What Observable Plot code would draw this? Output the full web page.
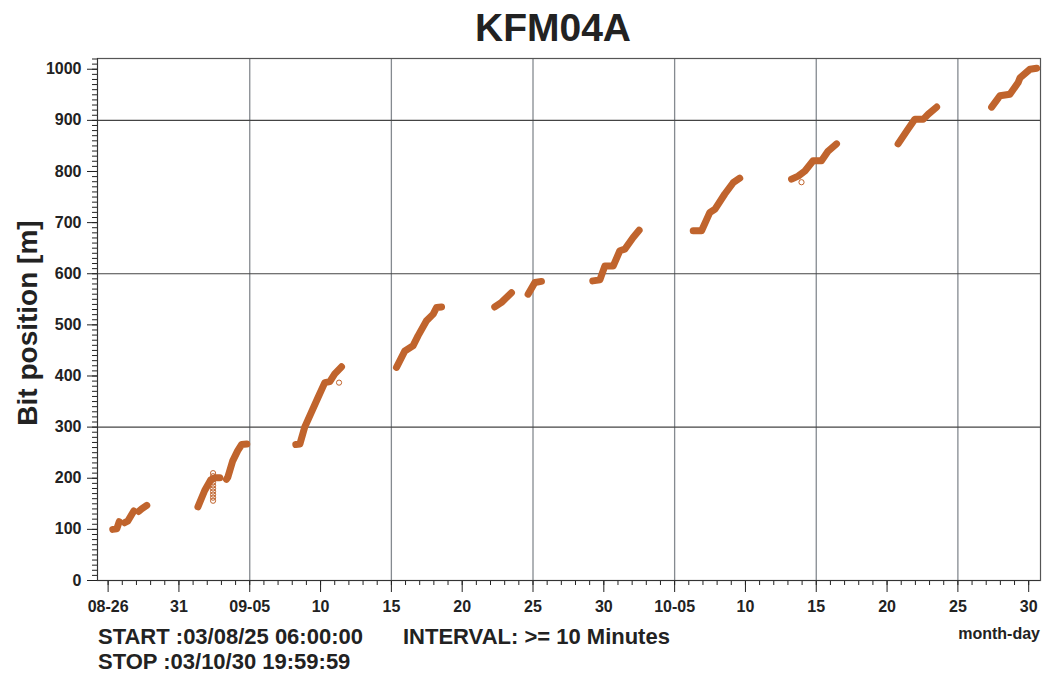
<!DOCTYPE html>
<html>
<head>
<meta charset="utf-8">
<script src="https://cdn.jsdelivr.net/npm/d3@7"></script>
<script src="https://cdn.jsdelivr.net/npm/@observablehq/plot@0.6"></script>
<style>
  html, body { margin: 0; padding: 0; background: #fff; overflow: hidden; }
  #chart { width: 1046px; height: 677px; }
</style>
</head>
<body>
<div id="chart"></div>
<script>
// ─────────────────────────────────────────────
//  DATA  (read off the KFM04A drilling log)
// ─────────────────────────────────────────────
const START_TIME = "2003-08-25T06:00:00";
const STOP_TIME  = "2003-10-30T19:59:59";

// one entry per drilling run: run id, time (UTC), bit position [m]
const RUN_ID = [
  1, 1, 1,
  2, 2, 2,
  3, 3, 3,
  4, 4, 4, 4, 4,
  5, 5, 5, 5, 5, 5,
  6, 6, 6, 6, 6, 6, 6, 6,
  7, 7, 7, 7, 7, 7, 7, 7,
  8, 8, 8,
  9, 9, 9,
  10, 10, 10, 10, 10, 10, 10, 10,
  11, 11, 11, 11, 11, 11, 11,
  12, 12, 12, 12, 12, 12, 12,
  13, 13, 13, 13, 13, 13,
  14, 14, 14, 14, 14, 14, 14
];
const RUN_TIME = [
  "2003-08-26T07:50", "2003-08-26T14:40", "2003-08-26T18:50",
  "2003-08-27T04:00", "2003-08-27T09:10", "2003-08-27T19:30",
  "2003-08-28T03:50", "2003-08-28T08:50", "2003-08-28T17:30",
  "2003-09-01T08:10", "2003-09-01T19:40", "2003-09-02T06:00", "2003-09-02T12:40", "2003-09-02T21:10",
  "2003-09-03T08:30", "2003-09-03T10:50", "2003-09-03T19:10", "2003-09-04T03:40", "2003-09-04T10:20", "2003-09-04T19:00",
  "2003-09-08T06:00", "2003-09-08T13:00", "2003-09-08T21:10", "2003-09-09T19:40", "2003-09-10T07:10", "2003-09-10T15:40", "2003-09-11T00:00", "2003-09-11T11:30",
  "2003-09-15T08:40", "2003-09-15T22:50", "2003-09-16T12:40", "2003-09-16T21:20", "2003-09-17T11:30", "2003-09-17T22:50", "2003-09-18T04:30", "2003-09-18T13:00",
  "2003-09-22T07:10", "2003-09-22T18:40", "2003-09-23T11:30",
  "2003-09-24T15:40", "2003-09-25T03:10", "2003-09-25T14:20",
  "2003-09-29T05:20", "2003-09-29T17:20", "2003-09-30T01:40", "2003-09-30T15:50", "2003-10-01T03:10", "2003-10-01T11:30", "2003-10-02T01:40", "2003-10-02T11:50",
  "2003-10-06T07:30", "2003-10-06T21:40", "2003-10-07T11:40", "2003-10-07T20:10", "2003-10-08T13:00", "2003-10-09T03:10", "2003-10-09T14:20",
  "2003-10-13T06:10", "2003-10-13T17:20", "2003-10-14T04:50", "2003-10-14T18:40", "2003-10-15T08:50", "2003-10-15T20:10", "2003-10-16T10:20",
  "2003-10-20T18:40", "2003-10-21T09:10", "2003-10-21T23:00", "2003-10-22T13:10", "2003-10-22T21:40", "2003-10-23T12:00",
  "2003-10-27T09:10", "2003-10-27T23:10", "2003-10-28T16:10", "2003-10-29T06:10", "2003-10-29T09:10", "2003-10-30T02:10", "2003-10-30T13:30"
];
const RUN_DEPTH = [
  100, 101, 115,
  113, 116, 136,
  135, 140, 147,
  144, 176, 197, 201, 201,
  198, 202, 234, 254, 266, 267,
  266, 267, 300, 358, 387, 389, 404, 418,
  417, 449, 459, 479, 508, 521, 534, 535,
  535, 544, 563,
  560, 583, 585,
  586, 588, 615, 615, 645, 648, 671, 685,
  684, 684, 720, 726, 756, 778, 787,
  785, 791, 801, 821, 821, 840, 854,
  854, 879, 902, 902, 912, 926,
  926, 948, 951, 974, 983, 1000, 1002
];

// isolated readings (open circles)
const OUTLIER_TIME = [
  "2003-09-02T09:50", "2003-09-02T09:50", "2003-09-02T09:50", "2003-09-02T09:50", "2003-09-02T09:50",
  "2003-09-02T09:50", "2003-09-02T09:50", "2003-09-02T09:50", "2003-09-02T09:50", "2003-09-02T09:50",
  "2003-09-11T07:20", "2003-10-13T23:00"
];
const OUTLIER_DEPTH = [210, 204, 198, 192, 186, 180, 174, 168, 162, 156, 387, 779];

// axes
const X_TICKS  = ["2003-08-26", "2003-08-31", "2003-09-05", "2003-09-10", "2003-09-15", "2003-09-20", "2003-09-25",
                  "2003-09-30", "2003-10-05", "2003-10-10", "2003-10-15", "2003-10-20", "2003-10-25", "2003-10-30"];
const X_LABELS = ["08-26", "31", "09-05", "10", "15", "20", "25", "30", "10-05", "10", "15", "20", "25", "30"];
const X_GRID   = ["2003-09-05", "2003-09-15", "2003-09-25", "2003-10-05", "2003-10-15", "2003-10-25"];
const Y_TICKS  = [0, 100, 200, 300, 400, 500, 600, 700, 800, 900, 1000];
const Y_GRID   = [300, 600, 900];

const COLOR = "#c0642d";
const FONT  = "'Liberation Sans', Arial, Helvetica, sans-serif";

// ─────────────────────────────────────────────
//  PREP
// ─────────────────────────────────────────────
const utc = s => new Date(s + (s.length === 10 ? "T00:00:00Z" : "Z"));

const runs = RUN_ID.map((id, i) => ({ run: id, time: utc(RUN_TIME[i]), depth: RUN_DEPTH[i] }));
const outliers = OUTLIER_TIME.map((t, i) => ({ time: utc(t), depth: OUTLIER_DEPTH[i] }));

const xTicks = X_TICKS.map(utc);
const labelOf = new Map(xTicks.map((d, i) => [+d, X_LABELS[i]]));
const xStart = utc(START_TIME), xStop = utc(STOP_TIME);
const minorDays = d3.utcDay.range(d3.utcDay.ceil(xStart), xStop);
const minorDepth = d3.range(0, 1021, 10);

// ─────────────────────────────────────────────
//  CHART
// ─────────────────────────────────────────────
const chart = Plot.plot({
  width: 1046,
  height: 677,
  marginLeft: 97,
  marginRight: 6,
  marginTop: 58,
  marginBottom: 97,
  style: { fontFamily: FONT, fontSize: "16px", fontWeight: "bold", color: "#222", background: "#fff" },
  x: { type: "utc", domain: [xStart, xStop] },
  y: { domain: [0, 1021] },
  marks: [
    Plot.ruleX(X_GRID.map(utc), { stroke: "#858a90", strokeWidth: 1.3 }),
    Plot.ruleY(Y_GRID, { stroke: "#444", strokeWidth: 1.2 }),
    Plot.frame({ stroke: "#555", strokeWidth: 1.2 }),
    // minor ticks
    Plot.axisX({ ticks: minorDays, tickSize: 5, tickFormat: () => "", label: null }),
    Plot.axisY({ ticks: minorDepth, tickSize: 5, tickFormat: () => "", label: null }),
    // major ticks
    Plot.axisX({ ticks: xTicks, tickSize: 12, tickPadding: 8, tickFormat: d => labelOf.get(+d), label: null }),
    Plot.axisY({ ticks: Y_TICKS, tickSize: 10, tickPadding: 6, tickFormat: d => String(d), label: null }),
    Plot.ruleX([xStart], { stroke: "#333" }),
    Plot.ruleY([0], { stroke: "#333" }),
    // bit position trail
    Plot.line(runs, {
      x: "time", y: "depth", z: "run",
      stroke: COLOR, strokeWidth: 7,
      strokeLinecap: "round", strokeLinejoin: "round"
    }),
    Plot.dot(outliers, { x: "time", y: "depth", r: 2.6, stroke: COLOR, strokeWidth: 1, fill: "none" })
  ]
});

// titles and captions
const svg = d3.select(chart);
svg.append("text")
  .attr("x", 553).attr("y", 41)
  .attr("text-anchor", "middle")
  .attr("font-size", 39)
  .text("KFM04A");

svg.append("text")
  .attr("transform", "translate(37,323) rotate(-90)")
  .attr("text-anchor", "middle")
  .attr("font-size", 28)
  .text("Bit position [m]");

svg.append("text")
  .attr("x", 1040).attr("y", 639)
  .attr("text-anchor", "end")
  .attr("font-size", 16)
  .text("month-day");

const caption = [
  [98, 644, "START :03/08/25 06:00:00"],
  [98, 669, "STOP :03/10/30 19:59:59"],
  [403, 644, "INTERVAL: >= 10 Minutes"]
];
caption.forEach(([x, y, t]) => {
  svg.append("text")
    .attr("x", x).attr("y", y)
    .attr("text-anchor", "start")
    .attr("font-size", 22)
    .text(t);
});

document.getElementById("chart").appendChild(chart);
</script>
</body>
</html>
